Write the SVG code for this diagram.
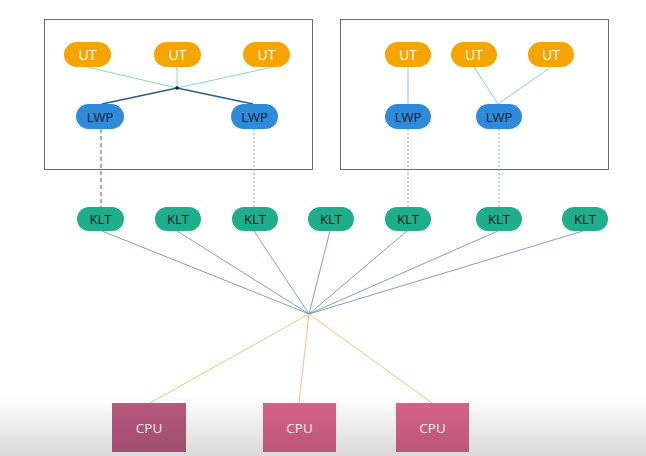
<svg xmlns="http://www.w3.org/2000/svg" width="646" height="456" viewBox="0 0 646 456">
<defs>
<linearGradient id="shade" x1="0" y1="0" x2="0" y2="1">
<stop offset="0" stop-color="#000000" stop-opacity="0"/>
<stop offset="1" stop-color="#000000" stop-opacity="0.15"/>
</linearGradient>
<style>
.box{fill:none;stroke:#6b6b6b;stroke-width:1}
.ut rect{fill:#f6a500}
.lwp rect{fill:#2f8bd9}
.klt rect{fill:#1eae8b}
.cpu rect{fill:#d9648b}
text{font-family:"Open Sans","Liberation Sans",sans-serif;text-anchor:middle;dominant-baseline:central}
.ut text{fill:#ffffff;font-size:14px}
.lwp text,.klt text{fill:#1a1a1a;font-size:13px}
.cpu text{fill:#ffffff;font-size:13.5px}
.lt{stroke:#86d3c6;stroke-width:1;fill:none}
.dk{stroke:#2c5b8e;stroke-width:1.4;fill:none}
.ds{stroke:#4f79a8;stroke-width:1.2;stroke-dasharray:4 3;fill:none}
.dt{stroke:#8aa9c9;stroke-width:1;stroke-dasharray:2 2;fill:none}
.kl{stroke:#7593b5;stroke-width:0.9;fill:none}
.cl{stroke:#f5c27a;stroke-width:1;fill:none}
</style>
</defs>
<rect x="0" y="0" width="646" height="456" fill="#ffffff"/>
<rect class="box" x="44.5" y="19.5" width="268" height="150"/>
<rect class="box" x="340.5" y="19.5" width="268" height="150"/>
<g id="connectors">
<line class="lt" x1="87" y1="67" x2="177" y2="88"/>
<line class="lt" x1="177" y1="67" x2="177" y2="88"/>
<line class="lt" x1="273" y1="67" x2="177" y2="88"/>
<line class="dk" x1="102" y1="104" x2="177" y2="88"/>
<line class="dk" x1="253" y1="104" x2="177" y2="88"/>
<circle cx="177" cy="88" r="1.8" fill="#1a1a1a"/>
<line class="lt" x1="408" y1="67" x2="408" y2="104"/>
<line class="lt" x1="474" y1="67" x2="498" y2="104"/>
<line class="lt" x1="551" y1="67" x2="498" y2="104"/>
<line class="ds" x1="101" y1="129" x2="101" y2="207"/>
<line class="dt" x1="254" y1="129" x2="254" y2="207"/>
<line class="dt" x1="408" y1="129" x2="408" y2="207"/>
<line class="dt" x1="499" y1="129" x2="499" y2="207"/>
<line class="kl" x1="102" y1="231" x2="309" y2="314"/>
<line class="kl" x1="177" y1="231" x2="309" y2="314"/>
<line class="kl" x1="254" y1="231" x2="309" y2="314"/>
<line class="kl" x1="330" y1="231" x2="309" y2="314"/>
<line class="kl" x1="407" y1="231" x2="309" y2="314"/>
<line class="kl" x1="498" y1="231" x2="309" y2="314"/>
<line class="kl" x1="583" y1="231" x2="309" y2="314"/>
<line class="cl" x1="309" y1="314" x2="150" y2="403"/>
<line class="cl" x1="309" y1="314" x2="299" y2="403"/>
<line class="cl" x1="309" y1="314" x2="432" y2="403"/>
</g>
<g id="ut1" class="ut"><rect x="64" y="42" width="47" height="25" rx="12.5"/><text x="87.5" y="54.5">UT</text></g>
<g id="ut2" class="ut"><rect x="154" y="42" width="47" height="25" rx="12.5"/><text x="177.5" y="54.5">UT</text></g>
<g id="ut3" class="ut"><rect x="243" y="42" width="47" height="25" rx="12.5"/><text x="266.5" y="54.5">UT</text></g>
<g id="ut4" class="ut"><rect x="385" y="42" width="46" height="25" rx="12.5"/><text x="408" y="54.5">UT</text></g>
<g id="ut5" class="ut"><rect x="451" y="42" width="46" height="25" rx="12.5"/><text x="474" y="54.5">UT</text></g>
<g id="ut6" class="ut"><rect x="528" y="42" width="46" height="25" rx="12.5"/><text x="551" y="54.5">UT</text></g>
<g id="lwp1" class="lwp"><rect x="76" y="104" width="48" height="25" rx="12.5"/><text x="100" y="116.5">LWP</text></g>
<g id="lwp2" class="lwp"><rect x="231" y="104" width="47" height="25" rx="12.5"/><text x="254.5" y="116.5">LWP</text></g>
<g id="lwp3" class="lwp"><rect x="385" y="104" width="46" height="25" rx="12.5"/><text x="408" y="116.5">LWP</text></g>
<g id="lwp4" class="lwp"><rect x="476" y="104" width="46" height="25" rx="12.5"/><text x="499" y="116.5">LWP</text></g>
<g id="klt1" class="klt"><rect x="77" y="207" width="47" height="24" rx="12"/><text x="100.5" y="219">KLT</text></g>
<g id="klt2" class="klt"><rect x="155" y="207" width="46" height="24" rx="12"/><text x="178" y="219">KLT</text></g>
<g id="klt3" class="klt"><rect x="232" y="207" width="46" height="24" rx="12"/><text x="255" y="219">KLT</text></g>
<g id="klt4" class="klt"><rect x="308" y="207" width="46" height="24" rx="12"/><text x="331" y="219">KLT</text></g>
<g id="klt5" class="klt"><rect x="385" y="207" width="46" height="24" rx="12"/><text x="408" y="219">KLT</text></g>
<g id="klt6" class="klt"><rect x="476" y="207" width="46" height="24" rx="12"/><text x="499" y="219">KLT</text></g>
<g id="klt7" class="klt"><rect x="562" y="207" width="46" height="24" rx="12"/><text x="585" y="219">KLT</text></g>
<g id="cpu1" class="cpu"><rect x="112" y="403" width="74" height="49" style="fill:#bb5a80"/><text x="149" y="428">CPU</text></g>
<g id="cpu2" class="cpu"><rect x="263" y="403" width="73" height="49"/><text x="299.5" y="428">CPU</text></g>
<g id="cpu3" class="cpu"><rect x="396" y="403" width="73" height="49"/><text x="432.5" y="428">CPU</text></g>
<rect x="0" y="395" width="646" height="61" fill="url(#shade)"/>
</svg>
